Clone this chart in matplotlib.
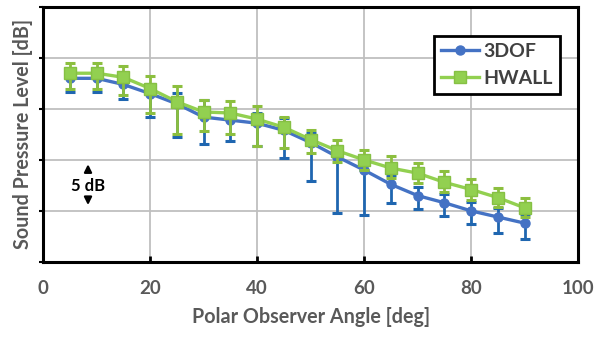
import matplotlib
matplotlib.use("Agg")
import matplotlib.pyplot as plt
import numpy as np

angles = [5, 10, 15, 20, 25, 30, 35, 40, 45, 50, 55, 60, 65, 70, 75, 80, 85, 90]

dof3 = [18.0, 18.0, 17.4, 16.5, 15.5, 14.2, 13.9, 13.6, 12.9, 11.7, 10.3, 9.0, 7.6, 6.5, 5.8, 5.0, 4.4, 3.8]
dof3_hi = [18.8, 18.8, 18.3, 17.4, 16.6, 15.9, 14.9, 14.6, 14.1, 12.6, 11.2, 9.9, 8.5, 7.35, 6.7, 5.9, 5.3, 4.7]
dof3_lo = [16.7, 16.7, 16.0, 14.2, 12.2, 11.6, 11.9, 11.4, 10.2, 7.9, 4.8, 4.6, 5.8, 5.2, 4.5, 3.7, 2.8, 2.2]

hwall = [18.5, 18.5, 18.1, 17.0, 15.7, 14.7, 14.6, 14.0, 13.2, 12.0, 10.9, 10.0, 9.2, 8.7, 7.8, 7.1, 6.3, 5.3]
hwall_hi = [19.5, 19.5, 19.2, 18.2, 17.2, 15.9, 15.8, 15.3, 14.2, 12.9, 12.0, 11.0, 10.4, 9.7, 8.9, 8.1, 7.2, 6.3]
hwall_lo = [17.0, 17.0, 16.4, 14.6, 12.5, 12.8, 12.5, 11.4, 11.2, 10.7, 9.8, 9.0, 8.2, 7.7, 6.9, 6.1, 5.4, 4.4]

x_ticks = [0, 20, 40, 60, 80, 100]
y_grid = [0, 5, 10, 15, 20, 25]

plt.rcParams['font.family'] = ['Lato', 'DejaVu Sans']

fig = plt.figure(figsize=(5.98, 3.46), dpi=100)
ax = fig.add_axes([0.072, 0.243, 0.895, 0.737])

blue = '#4472C4'
blue_err = '#1F66B0'
green = '#92D050'
green_err = '#8CBF3F'

a = np.array(angles)
d = np.array(dof3); dh = np.array(dof3_hi); dl = np.array(dof3_lo)
h = np.array(hwall); hh = np.array(hwall_hi); hl = np.array(hwall_lo)

ax.errorbar(a, d, yerr=[d - dl, dh - d], fmt='none', ecolor=blue_err,
            elinewidth=2, capsize=3.5, capthick=2.2, zorder=3)
ax.plot(a, d, color=blue, lw=2.4, marker='o', ms=6.5, mfc=blue, mec=blue,
        label='3DOF', zorder=4)
ax.errorbar(a, h, yerr=[h - hl, hh - h], fmt='none', ecolor=green_err,
            elinewidth=2, capsize=3.5, capthick=2.2, zorder=5)
ax.plot(a, h, color=green, lw=2.4, marker='s', ms=8, mfc=green, mec='#86C044',
        label='HWALL', zorder=6)

ax.set_xlim(0, 100)
ax.set_ylim(0, 25)
ax.set_xticks(x_ticks)
ax.set_yticks(y_grid)
ax.set_yticklabels([])
ax.grid(True, color='#BFBFBF', lw=1.3)
ax.set_axisbelow(True)
for s in ax.spines.values():
    s.set_linewidth(2.2)
    s.set_color('black')
ax.tick_params(axis='x', direction='in', length=4, width=2, pad=13,
               labelsize=13.5, labelcolor='#595959')
ax.tick_params(axis='y', direction='out', length=3, width=1.5, pad=0)
for lbl in ax.get_xticklabels():
    lbl.set_fontweight('bold')

ax.set_xlabel('Polar Observer Angle [deg]', fontsize=14.2, fontweight='bold',
              color='#595959', labelpad=7)
ax.set_ylabel('Sound Pressure Level [dB]', fontsize=14.2, fontweight='bold',
              color='#595959', labelpad=4)

# 5 dB annotation
ax.text(8.4, 7.45, '5 dB', ha='center', va='center', fontsize=12,
        fontweight='bold', color='black')
ax.annotate('', xy=(8.4, 9.85), xytext=(8.4, 8.75),
            arrowprops=dict(arrowstyle='-|>', color='black', lw=1.6, mutation_scale=11))
ax.annotate('', xy=(8.4, 5.3), xytext=(8.4, 6.4),
            arrowprops=dict(arrowstyle='-|>', color='black', lw=1.6, mutation_scale=11))

leg = ax.legend(loc='upper right', bbox_to_anchor=(0.965, 0.885), frameon=True,
                fancybox=False, framealpha=1, edgecolor='black',
                prop={'weight': 'bold', 'size': 14}, handlelength=2.0,
                handletextpad=0.2, borderpad=0.35, labelspacing=0.5,
                borderaxespad=0)
leg.get_frame().set_linewidth(2)
for t in leg.get_texts():
    t.set_color('#404040')

fig.savefig('out.png', dpi=100)
